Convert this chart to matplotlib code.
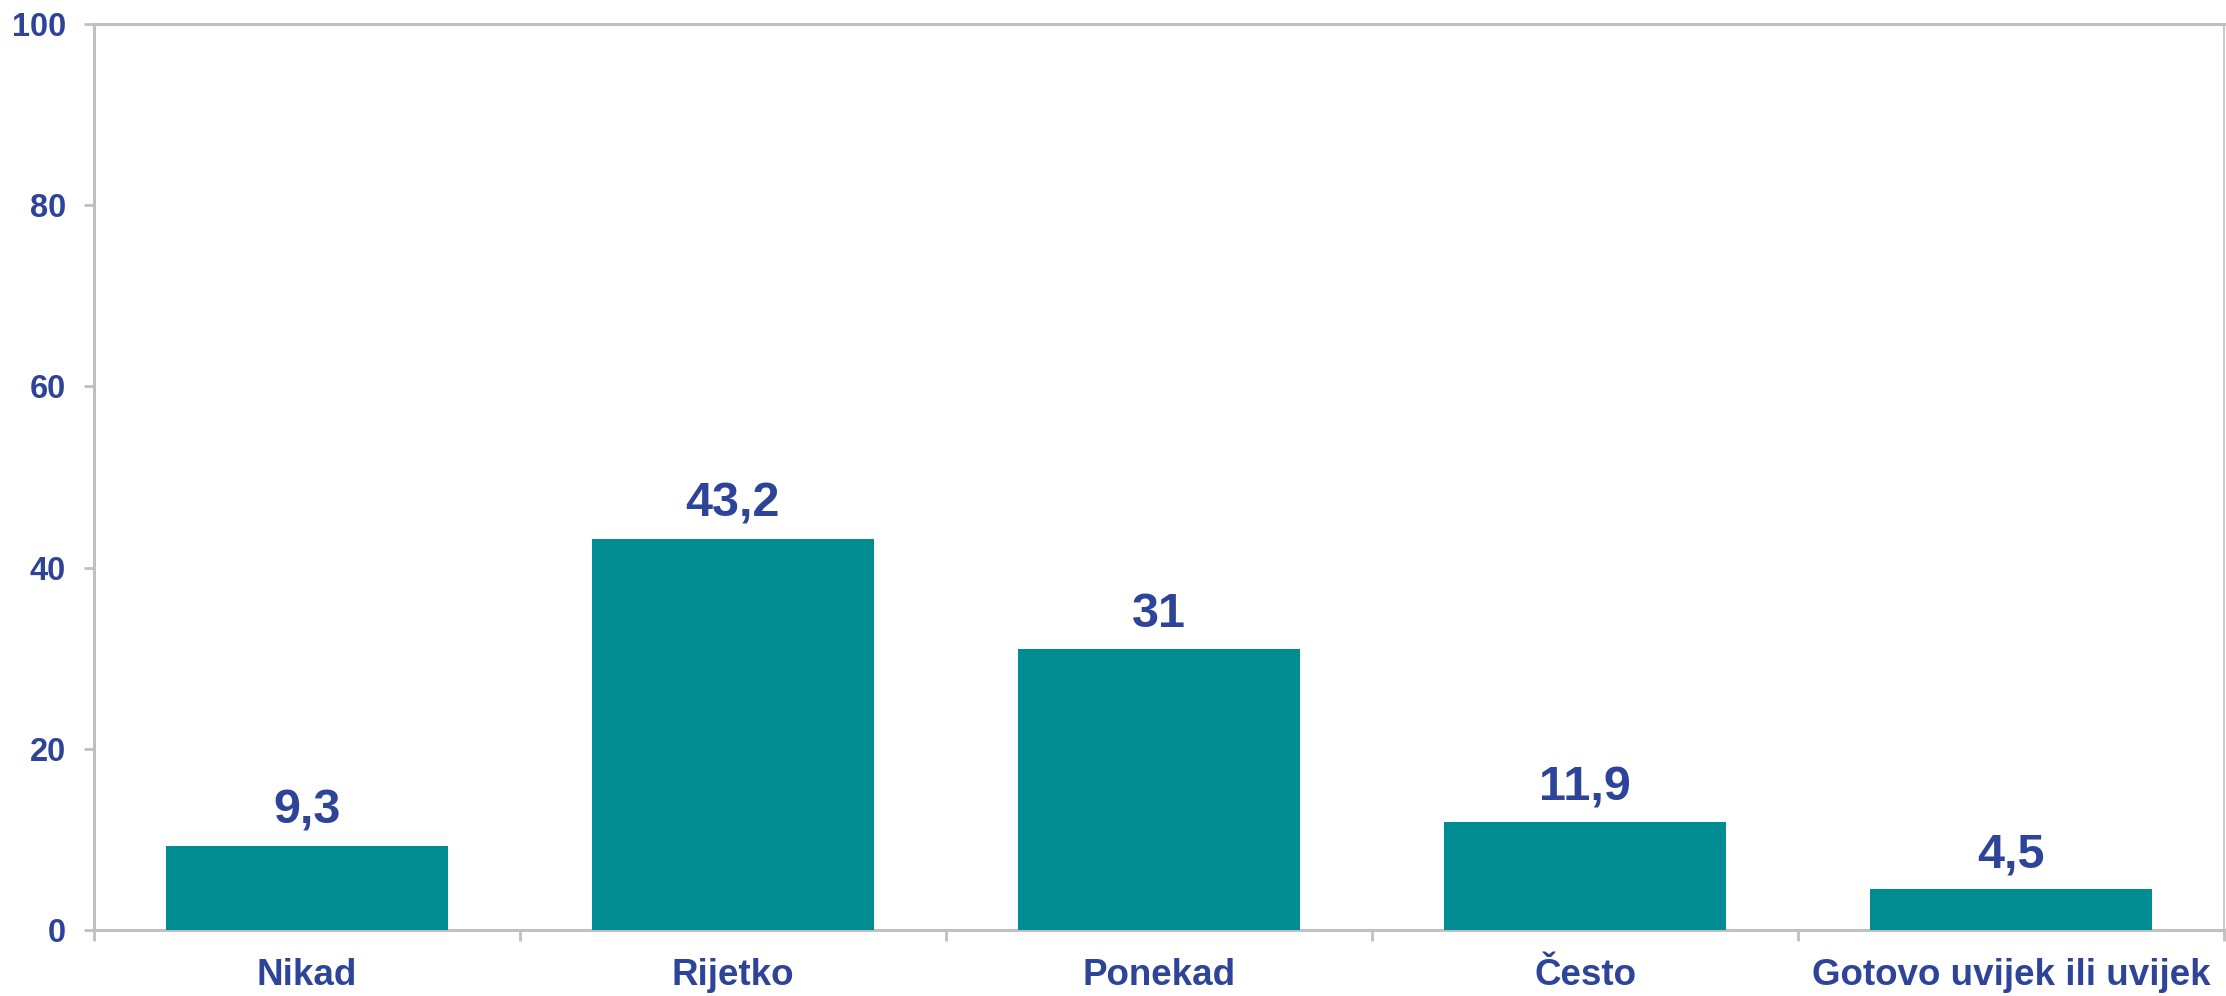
import matplotlib
matplotlib.use("Agg")
import matplotlib.pyplot as plt
import numpy as np

categories = ["Nikad", "Rijetko", "Ponekad", "Često", "Gotovo uvijek ili uvijek"]
values = [9.3, 43.2, 31, 11.9, 4.5]
value_labels = ["9,3", "43,2", "31", "11,9", "4,5"]
yticks = [0, 20, 40, 60, 80, 100]

text_color = "#2E4499"
bar_color = "#008C91"
spine_color = "#C0C0C0"

plt.rcParams['font.family'] = ['Liberation Sans', 'DejaVu Sans']
plt.rcParams['font.weight'] = 'bold'

fig = plt.figure(figsize=(22.26, 9.96), dpi=100)
ax = fig.add_axes([94/2226, 1-930/996, (2224-94)/2226, (930-24)/996])

x = np.arange(len(categories))
bars = ax.bar(x, values, width=0.66, color=bar_color, zorder=3)
ax.bar_label(bars, labels=value_labels, padding=8.5, fontsize=35,
             fontweight='bold', color=text_color)

ax.set_xlim(-0.5, len(categories) - 0.5)
ax.set_ylim(0, 100)
ax.set_yticks(yticks)
ax.set_yticklabels([str(t) for t in yticks], fontsize=23.5,
                   fontweight='bold', color=text_color)
ax.set_xticks(x)
ax.set_xticklabels(categories, fontsize=26.5, fontweight='bold', color=text_color)
ax.tick_params(axis='x', length=0, pad=20)
ax.tick_params(axis='y', length=7, width=2, color=spine_color, pad=13)
# category boundary ticks
ax.set_xticks(np.arange(-0.5, len(categories) + 0.5, 1), minor=True)
ax.tick_params(axis='x', which='minor', length=8, width=2, color=spine_color)

for side in ['left', 'bottom', 'top']:
    ax.spines[side].set_color(spine_color)
    ax.spines[side].set_linewidth(2.2)
ax.spines['right'].set_color(spine_color)
ax.spines['right'].set_linewidth(1.2)

fig.savefig("out.png", dpi=100, facecolor='white')
